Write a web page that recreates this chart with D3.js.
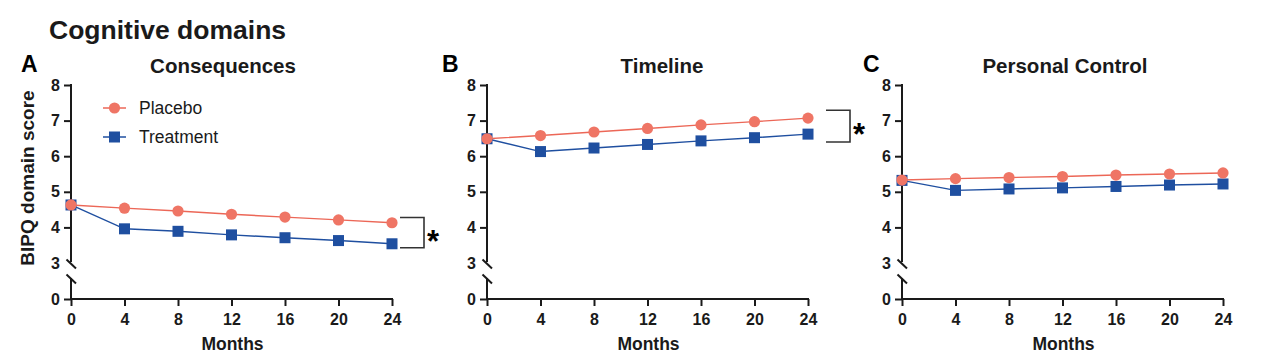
<!DOCTYPE html>
<html>
<head>
<meta charset="utf-8">
<script src="https://cdn.jsdelivr.net/npm/d3@7"></script>
<style>
  html, body { margin: 0; padding: 0; background: #fff; }
  svg { display: block; font-family: "Liberation Sans", Arial, sans-serif; }
</style>
</head>
<body>
<svg id="chart" width="1288" height="364"></svg>
<script>
var months = [0, 4, 8, 12, 16, 20, 24];
var yTicks = [0, 3, 4, 5, 6, 7, 8];
var panelLetters = ["A", "B", "C"];
var panelTitles = ["Consequences", "Timeline", "Personal Control"];
var seriesNames = ["Placebo", "Treatment"];

var consequencesPlacebo = [4.63, 4.54, 4.46, 4.37, 4.29, 4.21, 4.13];
var consequencesTreatment = [4.63, 3.96, 3.89, 3.79, 3.71, 3.63, 3.54];
var timelinePlacebo = [6.49, 6.58, 6.68, 6.78, 6.88, 6.97, 7.07];
var timelineTreatment = [6.49, 6.13, 6.23, 6.33, 6.43, 6.52, 6.62];
var controlPlacebo = [5.33, 5.37, 5.40, 5.43, 5.47, 5.50, 5.53];
var controlTreatment = [5.32, 5.04, 5.08, 5.11, 5.15, 5.19, 5.22];

// significance brackets: [top, bottom] in score units, null = none
var sigBrackets = [[4.28, 3.43], [7.29, 6.40], null];

var placebo = [consequencesPlacebo, timelinePlacebo, controlPlacebo];
var treatment = [consequencesTreatment, timelineTreatment, controlTreatment];

// layout
var originX = [71, 487, 902];
var plotW = 321;
var titleDx = [152, 175, 163];
var letterDx = [-50, -45, -39];
var bracketDx = [8, 18, 0];
var red = "#ec6757", redFill = "#ef7565", blue = "#1f4fa0", ink = "#1a1a1a";

var svg = d3.select("#chart");

svg.append("text")
	.attr("x", 49).attr("y", 39)
	.attr("font-size", 26.5).attr("font-weight", "bold").attr("fill", ink)
	.text("Cognitive domains");

var y = d3.scaleLinear().domain([0, 3, 8]).range([299, 263, 85]);

panelTitles.forEach(function (title, p) {
	var g = svg.append("g").attr("transform", "translate(" + originX[p] + ",0)");
	var x = d3.scaleLinear().domain([0, 24]).range([0, plotW]);

	g.append("text")
		.attr("x", letterDx[p]).attr("y", 72)
		.attr("font-size", 23).attr("font-weight", "bold").attr("fill", "#000")
		.text(panelLetters[p]);

	g.append("text")
		.attr("x", titleDx[p]).attr("y", 73)
		.attr("text-anchor", "middle")
		.attr("font-size", 20.5).attr("font-weight", "bold").attr("fill", ink)
		.text(title);

	// y axis
	var ya = g.append("g")
		.call(d3.axisLeft(y).tickValues(yTicks).tickSize(7).tickPadding(4).tickSizeOuter(0));
	ya.select(".domain").remove();
	ya.selectAll(".tick line").attr("stroke", ink).attr("stroke-width", 2)
		.filter(function (d) { return d === 3; }).remove();
	ya.selectAll(".tick text").attr("font-size", 16).attr("font-weight", "bold")
		.attr("fill", ink).attr("font-family", "Liberation Sans, Arial, sans-serif");

	g.append("line").attr("x1", 0).attr("x2", 0)
		.attr("y1", y(8) - 1).attr("y2", y(3) - 1)
		.attr("stroke", ink).attr("stroke-width", 2);
	g.append("line").attr("x1", 0).attr("x2", 0)
		.attr("y1", y(3) + 15).attr("y2", y(0))
		.attr("stroke", ink).attr("stroke-width", 2);
	[y(3) + 1, y(3) + 16].forEach(function (cy) {
		g.append("line")
			.attr("x1", -4.5).attr("y1", cy - 4.5)
			.attr("x2", 5).attr("y2", cy + 4.5)
			.attr("stroke", ink).attr("stroke-width", 2);
	});

	// x axis
	var xa = g.append("g").attr("transform", "translate(0," + y(0) + ")")
		.call(d3.axisBottom(x).tickValues(months).tickSize(7).tickPadding(8).tickSizeOuter(0));
	xa.select(".domain").attr("stroke", ink).attr("stroke-width", 2)
		.attr("d", "M-1,0H" + (x(24) + 1));
	xa.selectAll(".tick line").attr("stroke", ink).attr("stroke-width", 2);
	xa.selectAll(".tick text").attr("font-size", 16).attr("font-weight", "bold")
		.attr("fill", ink).attr("font-family", "Liberation Sans, Arial, sans-serif");

	g.append("text")
		.attr("x", x(12) + 1).attr("y", 350)
		.attr("text-anchor", "middle")
		.attr("font-size", 17.5).attr("font-weight", "bold").attr("fill", ink)
		.text("Months");

	var line = d3.line()
		.x(function (d, i) { return x(months[i]); })
		.y(function (d) { return y(d); });

	// treatment under placebo
	g.append("path").datum(treatment[p])
		.attr("d", line).attr("fill", "none")
		.attr("stroke", blue).attr("stroke-width", 1.4);
	g.selectAll("rect.trt").data(treatment[p]).enter().append("rect")
		.attr("class", "trt")
		.attr("x", function (d, i) { return x(months[i]) - 5.5; })
		.attr("y", function (d) { return y(d) - 5.5; })
		.attr("width", 11).attr("height", 11)
		.attr("fill", blue);

	g.append("path").datum(placebo[p])
		.attr("d", line).attr("fill", "none")
		.attr("stroke", red).attr("stroke-width", 1.4);
	g.selectAll("circle.pbo").data(placebo[p]).enter().append("circle")
		.attr("class", "pbo")
		.attr("cx", function (d, i) { return x(months[i]); })
		.attr("cy", function (d) { return y(d); })
		.attr("r", 5.6)
		.attr("fill", redFill);

	// significance bracket
	var b = sigBrackets[p];
	if (b) {
		var bx0 = x(24) + bracketDx[p], bx1 = bx0 + 24;
		g.append("path")
			.attr("d", "M" + bx0 + "," + y(b[0]) + "H" + bx1 + "V" + y(b[1]) + "H" + bx0)
			.attr("fill", "none").attr("stroke", "#333").attr("stroke-width", 1.6);
		g.append("text")
			.attr("x", bx1 + 9).attr("y", (y(b[0]) + y(b[1])) / 2 + 19)
			.attr("text-anchor", "middle")
			.attr("font-size", 31).attr("font-weight", "bold").attr("fill", "#000")
			.text("*");
	}

	// y label and legend only on first panel
	if (p === 0) {
		svg.append("text")
			.attr("transform", "translate(34,178) rotate(-90)")
			.attr("text-anchor", "middle")
			.attr("font-size", 19).attr("font-weight", "bold").attr("fill", ink)
			.text("BIPQ domain score");

		var legend = svg.append("g");
		var ly = [108, 137];
		seriesNames.forEach(function (name, i) {
			var c = i === 0 ? red : blue;
			legend.append("line")
				.attr("x1", 103).attr("x2", 126).attr("y1", ly[i]).attr("y2", ly[i])
				.attr("stroke", c).attr("stroke-width", 1.5);
			if (i === 0) {
				legend.append("circle").attr("cx", 114.5).attr("cy", ly[i]).attr("r", 5.6).attr("fill", redFill);
			} else {
				legend.append("rect").attr("x", 109).attr("y", ly[i] - 5.5)
					.attr("width", 11).attr("height", 11).attr("fill", blue);
			}
			legend.append("text")
				.attr("x", 139).attr("y", ly[i]).attr("dy", "0.35em")
				.attr("font-size", 17.5).attr("fill", ink)
				.text(name);
		});
	}
});
</script>
</body>
</html>
